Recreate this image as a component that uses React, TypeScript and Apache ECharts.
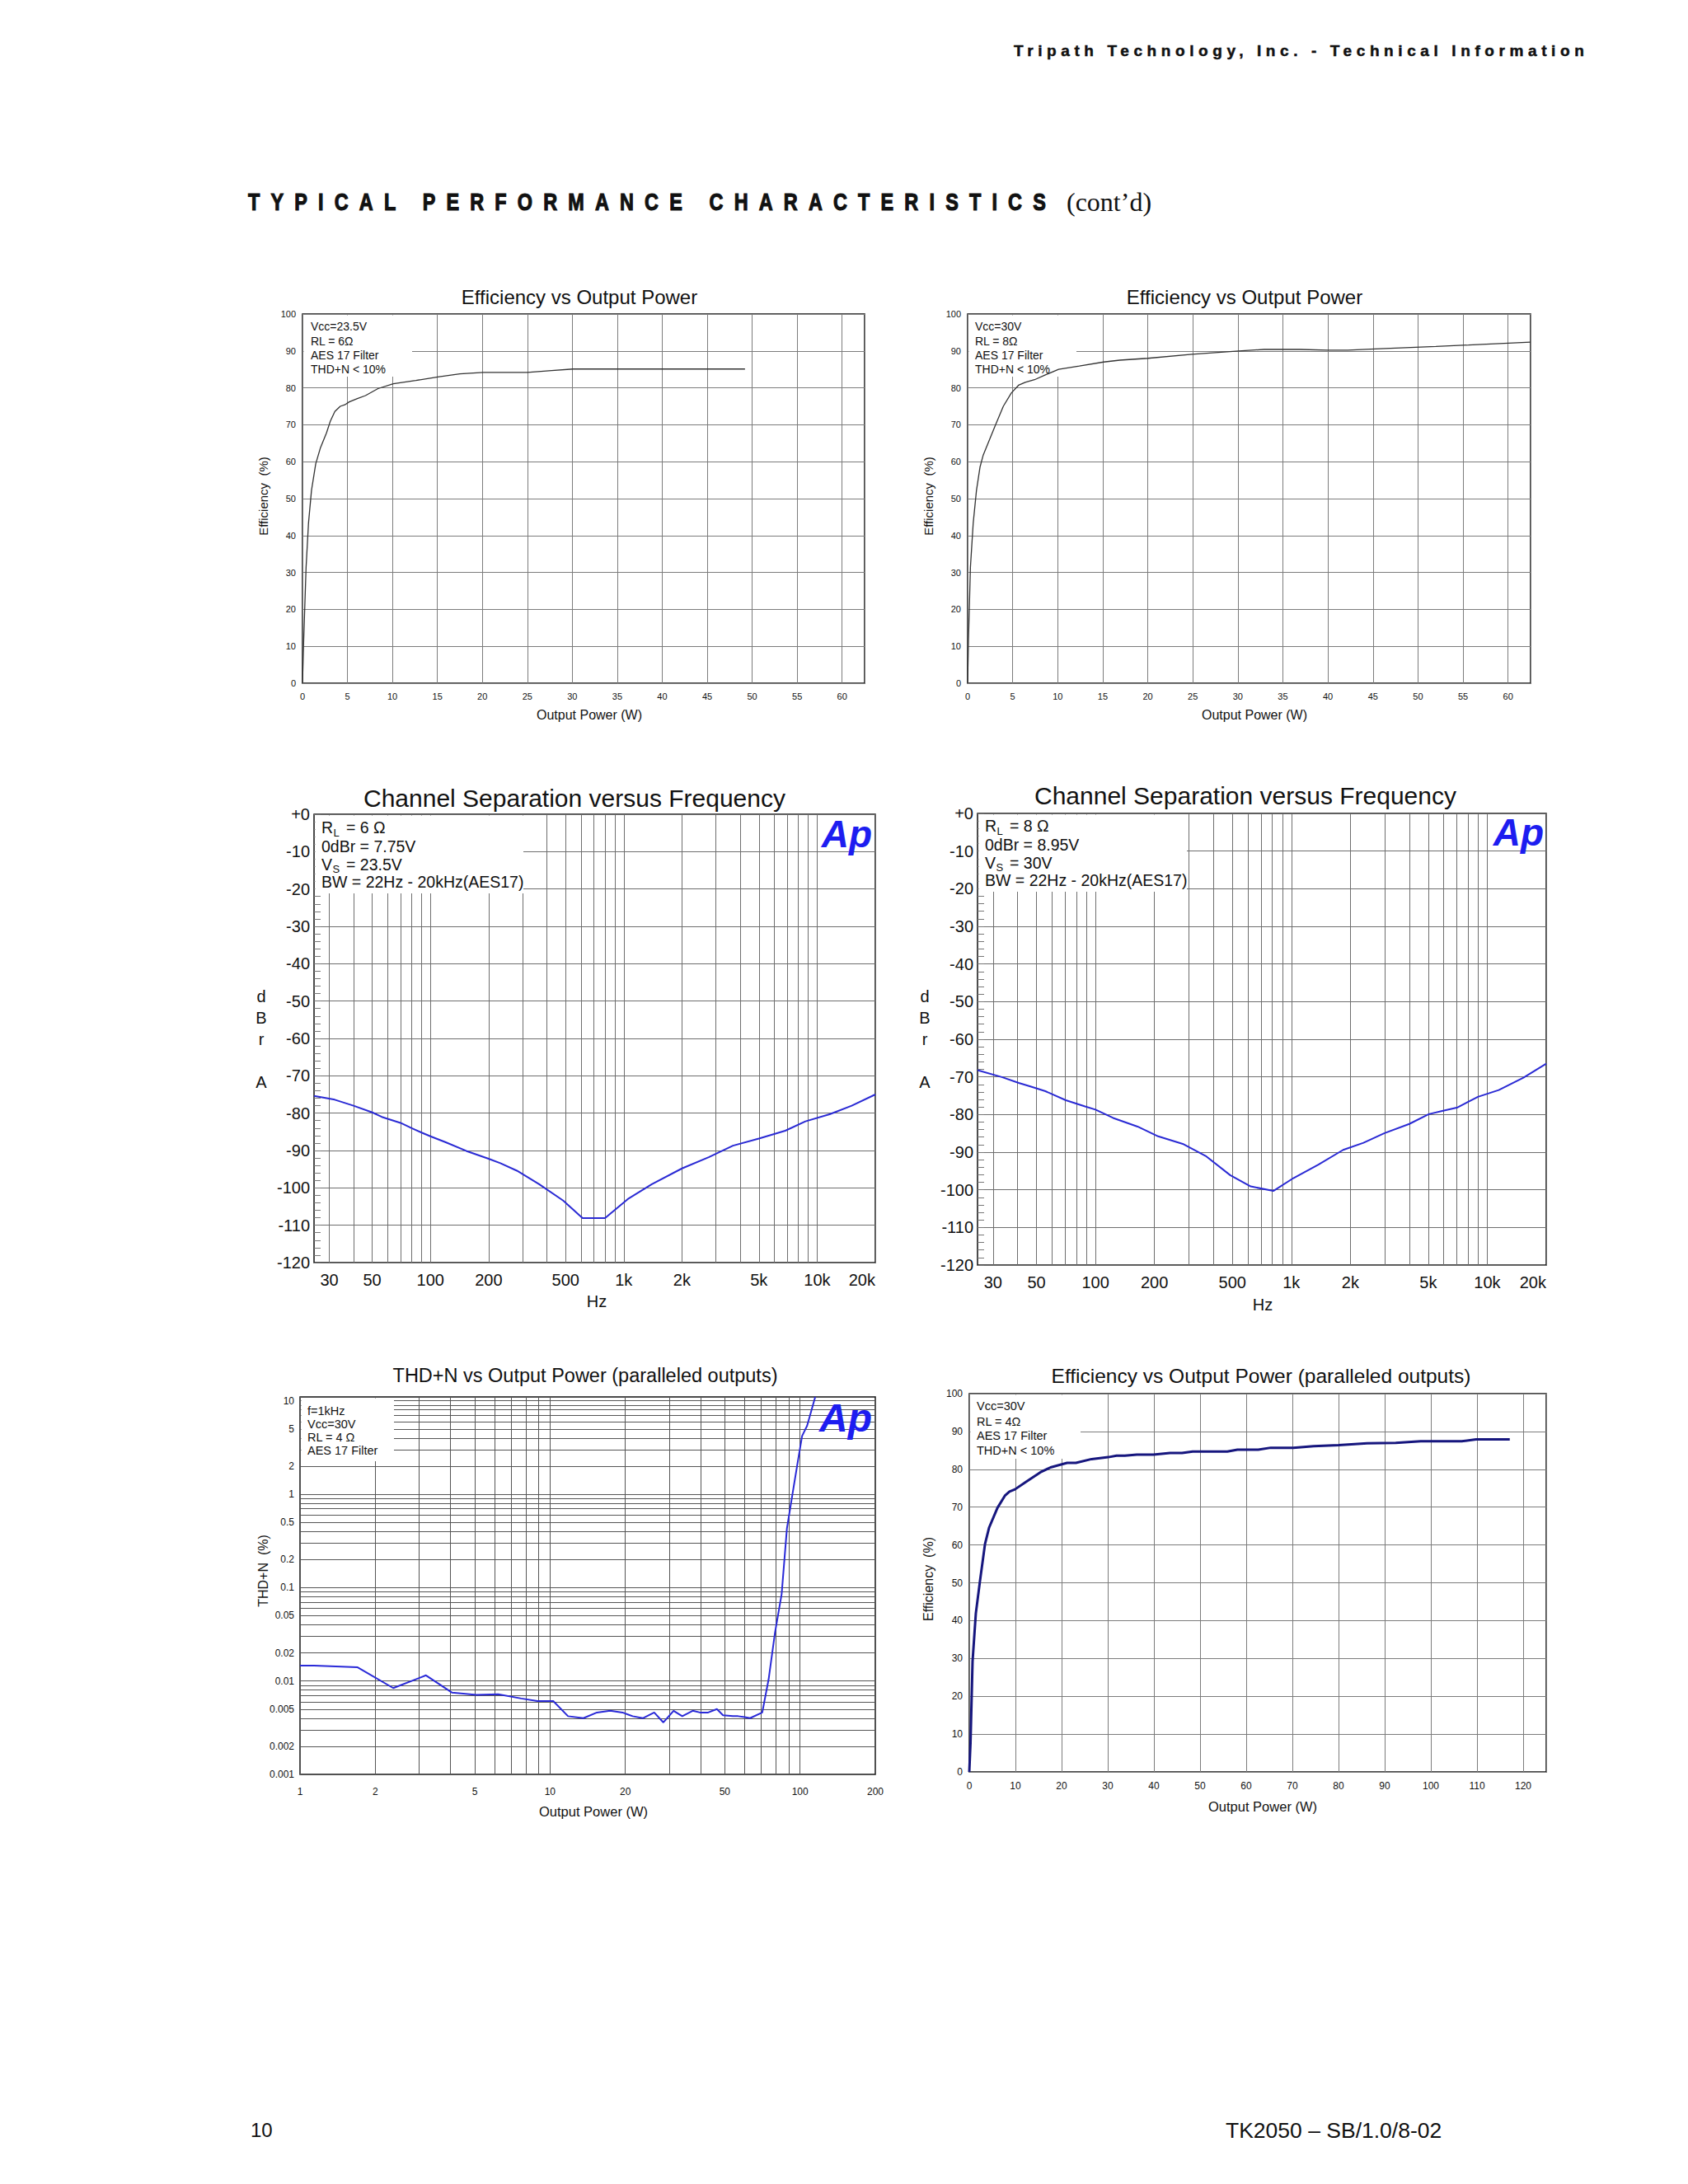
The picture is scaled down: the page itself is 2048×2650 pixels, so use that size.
import React, { useEffect, useRef } from "react";
import * as echarts from "echarts";

const FONT = '"Liberation Sans", Arial, Helvetica, sans-serif';
const SERIF = '"Liberation Serif", "Times New Roman", serif';

// ---------- Chart 1: Efficiency vs Output Power (Vcc=23.5V, RL=6Ω)
const eff1Power = [0, 0.13, 0.4, 0.67, 1.0, 1.47, 2.0, 2.67, 3.1, 3.6, 4.2, 4.7, 5.2, 6.1, 7.0, 8.4, 10.1, 12.6, 15.2, 17.5, 20.1, 25.0, 27.7, 30.1, 49.2];
const eff1Value = [0, 11.4, 31.4, 43.4, 52.2, 59.4, 63.8, 67.8, 71.0, 73.6, 75.0, 75.4, 76.2, 77.1, 77.9, 79.8, 81.1, 82.0, 83.0, 83.8, 84.2, 84.2, 84.7, 85.1, 85.1];

// ---------- Chart 2: Efficiency vs Output Power (Vcc=30V, RL=8Ω)
const eff2Power = [0, 0.09, 0.31, 0.62, 0.98, 1.38, 1.73, 2.27, 3.07, 3.96, 4.85, 5.65, 6.4, 7.43, 8.63, 10.1, 12.4, 15.1, 16.9, 20.0, 24.9, 30.1, 32.9, 36.9, 40.0, 42.2, 45.8, 52.0, 55.6, 62.5];
const eff2Value = [0, 11.4, 31.4, 43.4, 52.2, 58.6, 61.8, 65.0, 69.8, 75.0, 78.6, 80.7, 81.5, 82.2, 83.5, 85.0, 85.9, 87.0, 87.5, 88.0, 89.1, 90.0, 90.4, 90.4, 90.2, 90.2, 90.6, 91.2, 91.6, 92.4];

// ---------- Chart 3: Channel separation (RL=6Ω)
const sep6Freq = [25, 32, 40, 50, 56, 60, 70, 80, 90, 100, 120, 153, 200, 230, 280, 365, 486, 612, 800, 1049, 1397, 2000, 2750, 3670, 5000, 6840, 8700, 11600, 15100, 20000];
const sep6Value = [-75.4, -76.4, -78.0, -79.8, -81.0, -81.5, -82.6, -84.0, -85.2, -86.2, -87.8, -90.1, -92.2, -93.4, -95.4, -99.0, -103.4, -108.1, -108.1, -103.0, -99.0, -94.8, -91.8, -88.7, -86.8, -84.7, -82.2, -80.3, -78.0, -75.0];

// ---------- Chart 4: Channel separation (RL=8Ω)
const sep8Freq = [25, 33.5, 40.6, 46.9, 55.5, 70.6, 87.8, 100, 123, 164, 209, 279, 365, 487, 620, 809, 1024, 1374, 1838, 2335, 2975, 4000, 5030, 5950, 7060, 8960, 11450, 15300, 20000];
const sep8Value = [-68.2, -70.1, -71.6, -72.6, -73.8, -76.2, -77.8, -78.7, -80.9, -83.2, -85.8, -87.8, -91.0, -96.1, -99.1, -100.3, -96.9, -93.3, -89.4, -87.5, -85.0, -82.5, -79.9, -79.0, -78.1, -75.3, -73.5, -70.2, -66.5];

// ---------- Chart 5: THD+N vs Output Power (paralleled outputs)
const thdPower = [1, 1.14, 1.7, 2.36, 3.19, 4.06, 5.08, 6.2, 7.67, 8.9, 10.3, 11.8, 13.6, 15.4, 17.4, 19.5, 21.4, 23.5, 26.1, 28.4, 31.2, 33.8, 37.2, 39.8, 42.9, 46.5, 49.2, 53.9, 56.5, 60.1, 63.1, 70.6, 74.9, 79.4, 84.4, 88.6, 93.9, 98.2, 101.9, 106.7, 115];
const thdValue = [0.0146, 0.0146, 0.014, 0.0084, 0.0115, 0.0075, 0.0071, 0.0072, 0.0065, 0.0061, 0.0061, 0.0042, 0.004, 0.0046, 0.0048, 0.0046, 0.0042, 0.004, 0.0046, 0.0036, 0.0048, 0.0042, 0.0048, 0.0046, 0.0046, 0.005, 0.0043, 0.0042, 0.0042, 0.0041, 0.004, 0.0046, 0.0105, 0.033, 0.085, 0.43, 1.12, 2.33, 4.2, 5.4, 11];

// ---------- Chart 6: Efficiency vs Output Power (paralleled outputs)
const eff6Power = [0, 0.27, 0.71, 1.42, 2.3, 3.4, 4.3, 6.1, 7.7, 8.7, 9.9, 12.3, 15.4, 17.6, 21.2, 23.1, 26.5, 30.1, 31.9, 33.7, 36.3, 39.9, 43.5, 46.1, 48.4, 55.9, 58.1, 62.6, 65.3, 70.2, 74.6, 80.0, 86.2, 92.4, 97.8, 106.7, 109.8, 117.1];
const eff6Value = [0, 7.7, 29.2, 41.9, 50.3, 60.2, 64.6, 69.8, 73.0, 74.1, 74.7, 76.7, 79.2, 80.5, 81.7, 81.7, 82.7, 83.2, 83.6, 83.6, 83.9, 83.9, 84.3, 84.3, 84.7, 84.7, 85.2, 85.2, 85.7, 85.7, 86.1, 86.4, 86.9, 87.0, 87.4, 87.4, 87.9, 87.9];

// ---------- Log axis grid lines and tick labels
const sepFreqGrid = [30, 40, 50, 60, 70, 80, 90, 100, 200, 300, 400, 500, 600, 700, 800, 900, 1000, 2000, 3000, 4000, 5000, 6000, 7000, 8000, 9000, 10000, 20000];
const sepFreqLabels = [30, 50, 100, 200, 500, 1000, 2000, 5000, 10000, 20000];
const thdPowerGrid = [1, 2, 3, 4, 5, 6, 7, 8, 9, 10, 20, 30, 40, 50, 60, 70, 80, 90, 100, 200];
const thdPowerLabels = [1, 2, 5, 10, 20, 50, 100, 200];
const thdGrid = [0.001, 0.002, 0.003, 0.004, 0.005, 0.006, 0.007, 0.008, 0.009, 0.01, 0.02, 0.03, 0.04, 0.05, 0.06, 0.07, 0.08, 0.09, 0.1, 0.2, 0.3, 0.4, 0.5, 0.6, 0.7, 0.8, 0.9, 1, 2, 3, 4, 5, 6, 7, 8, 9, 10];
const thdLabels = [0.001, 0.002, 0.005, 0.01, 0.02, 0.05, 0.1, 0.2, 0.5, 1, 2, 5, 10];

function pairs(xs: number[], ys: number[]) {
  return xs.map((x, i) => [x, ys[i]]);
}

function T(x: number, y: number, text: string, fontSize: number, extra: any = {}) {
  const align = extra.align || "left";
  return {
    type: "text",
    x,
    y,
    z: 10,
    silent: true,
    rotation: extra.rotation || 0,
    style: {
      text,
      fontSize,
      fontFamily: extra.fontFamily || FONT,
      fontWeight: extra.fontWeight || "normal",
      fontStyle: extra.fontStyle || "normal",
      fill: extra.fill || "#111",
      textAlign: align,
      align,
      textVerticalAlign: "middle",
      verticalAlign: "middle",
    },
  };
}

function box(x1: number, y1: number, x2: number, y2: number) {
  return {
    type: "rect",
    z: 1,
    silent: true,
    shape: { x: x1, y: y1, width: x2 - x1, height: y2 - y1 },
    style: { fill: "#ffffff" },
  };
}

export default function App() {
  const ref = useRef<HTMLDivElement>(null);

  useEffect(() => {
    if (!ref.current) return;
    const chart = echarts.init(ref.current, undefined, { renderer: "svg" });

    const gridBase = {
      show: true,
      borderColor: "#111",
      borderWidth: 1.5,
      backgroundColor: "transparent",
      containLabel: false,
      outerBoundsMode: "none",
    };
    const grids = [
      { left: 367, top: 381, width: 682, height: 448 },
      { left: 1174, top: 381, width: 683, height: 448 },
      { left: 381, top: 988, width: 681, height: 544 },
      { left: 1186, top: 987, width: 690, height: 548 },
      { left: 364, top: 1695, width: 698, height: 458 },
      { left: 1176, top: 1691, width: 700, height: 459 },
    ].map((g) => ({ ...gridBase, ...g }));

    const lbl = (fontSize: number, margin: number) => ({
      fontSize,
      margin,
      color: "#111",
      fontFamily: FONT,
    });

    const linX = (gi: number, max: number, interval: number, size: number, margin: number) => ({
      gridIndex: gi,
      type: "value",
      min: 0,
      max,
      interval,
      axisLine: { show: false },
      axisTick: { show: false },
      axisLabel: { ...lbl(size, margin), showMaxLabel: false },
      splitLine: { show: true, lineStyle: { color: "#7c7c7c", width: 1 } },
    });
    const linY = (gi: number, size: number, margin: number) => ({
      gridIndex: gi,
      type: "value",
      min: 0,
      max: 100,
      interval: 10,
      axisLine: { show: false },
      axisTick: { show: false },
      axisLabel: lbl(size, margin),
      splitLine: { show: true, lineStyle: { color: "#7c7c7c", width: 1 } },
    });
    const freqFmt = (v: number) => (v >= 1000 ? v / 1000 + "k" : String(v));
    const sepX = (gi: number) => ({
      gridIndex: gi,
      type: "log",
      logBase: 10,
      min: 25,
      max: 20000,
      axisLine: { show: false },
      axisTick: { show: false, customValues: sepFreqGrid },
      axisLabel: {
        ...lbl(20, 11),
        customValues: sepFreqLabels,
        formatter: freqFmt,
        alignMaxLabel: "right",
      },
      splitLine: { show: true, lineStyle: { color: "#6e6e6e", width: 1 } },
    });
    const sepY = (gi: number) => ({
      gridIndex: gi,
      type: "value",
      min: -120,
      max: 0,
      interval: 10,
      axisLine: { show: false },
      axisTick: { show: true, inside: true, length: 8, lineStyle: { color: "#777" } },
      minorTick: { show: true, splitNumber: 5, length: 8, lineStyle: { color: "#777" } },
      axisLabel: { ...lbl(20, 5), formatter: (v: number) => (v === 0 ? "+0" : String(v)) },
      splitLine: { show: true, lineStyle: { color: "#6e6e6e", width: 1 } },
    });

    const xAxes = [
      linX(0, 62.5, 5, 11, 10),
      linX(1, 62.5, 5, 11, 10),
      sepX(2),
      sepX(3),
      {
        gridIndex: 4,
        type: "log",
        logBase: 10,
        min: 1,
        max: 200,
        axisLine: { show: false },
        axisTick: { show: false, customValues: thdPowerGrid },
        axisLabel: { ...lbl(12, 15), customValues: thdPowerLabels, formatter: (v: number) => String(v) },
        splitLine: { show: true, lineStyle: { color: "#555", width: 1 } },
      },
      linX(5, 125, 10, 12, 11),
    ];
    const yAxes = [
      linY(0, 11, 8),
      linY(1, 11, 8),
      sepY(2),
      sepY(3),
      {
        gridIndex: 4,
        type: "log",
        logBase: 10,
        min: 0.001,
        max: 11,
        axisLine: { show: false },
        axisTick: { show: false, customValues: thdGrid },
        axisLabel: { ...lbl(12, 7), customValues: thdLabels, formatter: (v: number) => String(v) },
        splitLine: { show: true, lineStyle: { color: "#555", width: 1 } },
      },
      linY(5, 12, 8),
    ];

    const line = (i: number, xs: number[], ys: number[], color: string, width: number) => ({
      type: "line",
      xAxisIndex: i,
      yAxisIndex: i,
      data: pairs(xs, ys),
      showSymbol: false,
      symbol: "none",
      smooth: false,
      silent: true,
      clip: true,
      z: 3,
      lineStyle: { color, width },
    });

    const series = [
      line(0, eff1Power, eff1Value, "#333", 1.3),
      line(1, eff2Power, eff2Value, "#333", 1.3),
      line(2, sep6Freq, sep6Value, "#2a2ad4", 2),
      line(3, sep8Freq, sep8Value, "#2a2ad4", 2),
      line(4, thdPower, thdValue, "#2a2ad8", 2),
      line(5, eff6Power, eff6Value, "#16167e", 3),
    ];

    const AP = "#1d1df0";
    const sepNote = (x0: number, ys: number[], rl: string, odbr: string, vs: string) => [
      T(x0, ys[0], "R", 19.5),
      T(x0 + 14.5, ys[0] + 6, "L", 13),
      T(x0 + 30, ys[0], "= " + rl, 19.5),
      T(x0, ys[1], odbr, 19.5),
      T(x0, ys[2], "V", 19.5),
      T(x0 + 13.5, ys[2] + 6, "S", 13),
      T(x0 + 30, ys[2], "= " + vs, 19.5),
      T(x0, ys[3], "BW = 22Hz - 20kHz(AES17)", 19.5),
    ];
    const dbra = (x: number) => [
      T(x, 1209, "d", 20, { align: "center" }),
      T(x, 1235, "B", 20, { align: "center" }),
      T(x, 1261, "r", 20, { align: "center" }),
      T(x, 1313, "A", 20, { align: "center" }),
    ];
    const apLogo = (xRight: number, yMid: number, size: number) =>
      T(xRight, yMid, "Ap", size, { align: "right", fontWeight: "bold", fontStyle: "italic", fill: AP });

    const graphic = [
      // Chart 1
      T(703, 360, "Efficiency vs Output Power", 24, { align: "center" }),
      T(319, 602, "Efficiency  (%)", 15, { align: "center", rotation: Math.PI / 2 }),
      T(715, 867, "Output Power (W)", 16, { align: "center" }),
      box(368.5, 382.5, 500, 457),
      T(377, 396, "Vcc=23.5V", 14),
      T(377, 413.5, "RL = 6Ω", 14),
      T(377, 431, "AES 17 Filter", 14),
      T(377, 448, "THD+N < 10%", 14),
      // Chart 2
      T(1510, 360, "Efficiency vs Output Power", 24, { align: "center" }),
      T(1126, 602, "Efficiency  (%)", 15, { align: "center", rotation: Math.PI / 2 }),
      T(1522, 867, "Output Power (W)", 16, { align: "center" }),
      box(1175.5, 382.5, 1306, 457),
      T(1183, 396, "Vcc=30V", 14),
      T(1183, 413.5, "RL = 8Ω", 14),
      T(1183, 431, "AES 17 Filter", 14),
      T(1183, 448, "THD+N < 10%", 14),
      // Chart 3
      T(697, 968, "Channel Separation versus Frequency", 30, { align: "center" }),
      T(724, 1579, "Hz", 20, { align: "center" }),
      ...dbra(317),
      box(382.5, 989.5, 635, 1084),
      ...sepNote(390, [1004, 1026.5, 1048.5, 1070], "6 Ω", "0dBr = 7.75V", "23.5V"),
      apLogo(1058, 1012, 46),
      // Chart 4
      T(1511, 965, "Channel Separation versus Frequency", 30, { align: "center" }),
      T(1532, 1583, "Hz", 20, { align: "center" }),
      ...dbra(1122),
      box(1187.5, 988.5, 1440, 1082),
      ...sepNote(1195, [1002, 1024.5, 1046.5, 1068], "8 Ω", "0dBr = 8.95V", "30V"),
      apLogo(1873, 1010, 46),
      // Chart 5
      T(710, 1669, "THD+N vs Output Power (paralleled outputs)", 23.5, { align: "center" }),
      T(319, 1906, "THD+N  (%)", 16, { align: "center", rotation: Math.PI / 2 }),
      T(720, 2198, "Output Power (W)", 16.5, { align: "center" }),
      box(365.5, 1696.5, 478, 1773),
      T(373, 1711.5, "f=1kHz", 14.5),
      T(373, 1727.5, "Vcc=30V", 14.5),
      T(373, 1743.5, "RL = 4 Ω", 14.5),
      T(373, 1760, "AES 17 Filter", 14.5),
      apLogo(1058, 1720, 48),
      // Chart 6
      T(1530, 1669, "Efficiency vs Output Power (paralleled outputs)", 24.5, { align: "center" }),
      T(1126, 1916, "Efficiency  (%)", 16, { align: "center", rotation: Math.PI / 2 }),
      T(1532, 2192, "Output Power (W)", 16.5, { align: "center" }),
      box(1177.5, 1692.5, 1311, 1770),
      T(1185, 1706, "Vcc=30V", 14.5),
      T(1185, 1724.5, "RL = 4Ω", 14.5),
      T(1185, 1742, "AES 17 Filter", 14.5),
      T(1185, 1760, "THD+N < 10%", 14.5),
    ];

    chart.setOption({
      animation: false,
      backgroundColor: "#ffffff",
      textStyle: { fontFamily: FONT },
      grid: grids,
      xAxis: xAxes,
      yAxis: yAxes,
      series,
      graphic,
    } as any);

    return () => chart.dispose();
  }, []);

  const abs = (left: number, top: number, style: any = {}) => ({
    position: "absolute" as const,
    left,
    top,
    whiteSpace: "nowrap" as const,
    color: "#111",
    fontFamily: FONT,
    ...style,
  });

  return (
    <div style={{ position: "absolute", left: 0, top: 0, width: 2048, height: 2650, background: "#fff", overflow: "hidden" }}>
      <div ref={ref} style={{ position: "absolute", left: 0, top: 0, width: 2048, height: 2650 }} />
      <div
        style={abs(1230, 51, {
          fontSize: 19,
          lineHeight: "22px",
          fontWeight: 700,
          letterSpacing: "5.6px",
          WebkitTextStroke: "0.5px #111",
        })}
      >
        Tripath Technology, Inc. - Technical Information
      </div>
      <div
        style={abs(301, 228, {
          fontSize: 30,
          lineHeight: "34px",
          fontWeight: 700,
          letterSpacing: "16.9px",
          transform: "scaleX(0.78)",
          transformOrigin: "left center",
          WebkitTextStroke: "1.2px #111",
        })}
      >
        TYPICAL PERFORMANCE CHARACTERISTICS
      </div>
      <div style={abs(1294, 225, { fontSize: 32, lineHeight: "40px", fontFamily: SERIF })}>(cont’d)</div>
      <div style={abs(304, 2570, { fontSize: 24, lineHeight: "30px" })}>10</div>
      <div style={abs(1487, 2570, { fontSize: 26.5, lineHeight: "30px" })}>TK2050 – SB/1.0/8-02</div>
    </div>
  );
}
